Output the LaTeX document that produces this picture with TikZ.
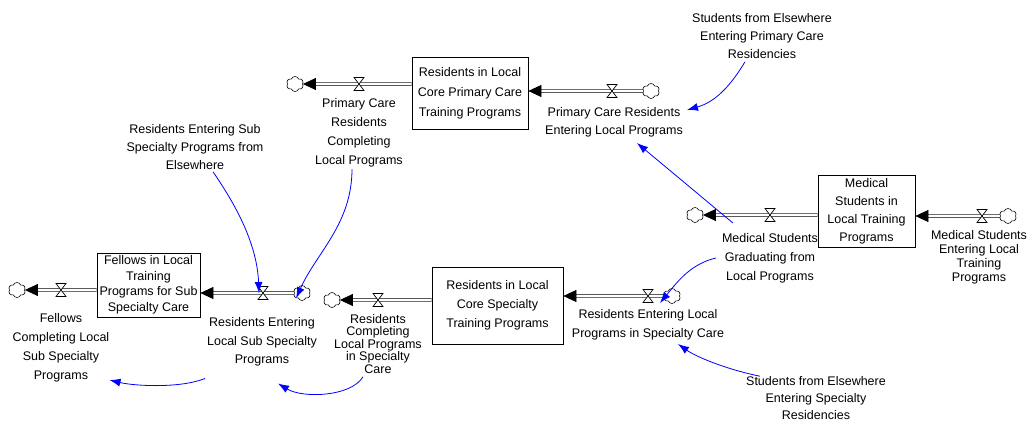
\documentclass[tikz,border=0pt]{standalone}
\usepackage{fontspec}
\setmainfont{Liberation Sans}
\usetikzlibrary{arrows.meta,shapes.symbols}

\begin{document}
\begin{tikzpicture}
[x=1pt,y=-1pt,
  stockdecorate/.style={shape=rectangle,draw,line width=0.7pt,align=center,inner sep=0pt},%
  sinkdecorate/.style={shape=cloud,cloud puffs=6,cloud puff arc=140,draw,line width=0.6pt,inner sep=0pt,minimum width=17pt,minimum height=15pt,aspect=1.2},%
  labeldecorate/.style={align=center,inner sep=0pt},%
  pipedecorate/.style={-{Triangle[length=13pt,width=12pt]},double,double distance=2pt,line width=0.7pt},%
  linkdecorate/.style={-{Latex[length=11pt,width=8pt]},draw=blue,line width=0.8pt},%
  valve/.pic={\draw[fill=white,line width=0.7pt] (-5,-6.5) -- (5,-6.5) -- (-5,6.5) -- (5,6.5) -- cycle;}]
\useasboundingbox (0,0) rectangle (1028,422);
\fontsize{12.5}{19}\selectfont
%% stocks
\node (rpc) at (470,93) [stockdecorate,minimum width=116,minimum height=72,font=\fontsize{12.5}{20}\selectfont] {Residents in Local\\Core Primary Care\\Training Programs};
\node (msl) at (866.5,211) [stockdecorate,minimum width=97,minimum height=72,font=\fontsize{12.5}{18}\selectfont] {Medical\\Students in\\Local Training\\Programs};
\node (rsp) at (497.5,305.5) [stockdecorate,minimum width=131,minimum height=77,font=\fontsize{12.5}{19}\selectfont] {Residents in Local\\Core Specialty\\Training Programs};
\node (fsub) at (148.5,285) [stockdecorate,minimum width=103,minimum height=64,font=\fontsize{12.5}{15.5}\selectfont] {Fellows in Local\\Training\\Programs for Sub\\Specialty Care};
%% valves
\coordinate (v1) at (359,84);
\coordinate (v2) at (612,91);
\coordinate (v3) at (770,215);
\coordinate (v4) at (982,216);
\coordinate (v5) at (378,300);
\coordinate (v6) at (648,296);
\coordinate (v7) at (61,290);
\coordinate (v8) at (263,293);
%% clouds
\node (c1) at (295,84) [sinkdecorate] {};
\node (c2) at (651,91) [sinkdecorate] {};
\node (c3) at (695,215) [sinkdecorate] {};
\node (c4) at (1008,216) [sinkdecorate] {};
\node (c5) at (332,300) [sinkdecorate] {};
\node (c6) at (672,296) [sinkdecorate] {};
\node (c7) at (17,290) [sinkdecorate] {};
\node (c8) at (302,293) [sinkdecorate] {};
%% pipes
\path
(rpc.west |- v1) edge[pipedecorate] (c1)
(c2) edge[pipedecorate] (rpc.east |- v2)
(msl.west |- v3) edge[pipedecorate] (c3)
(c4) edge[pipedecorate] (msl.east |- v4)
(rsp.west |- v5) edge[pipedecorate] (c5)
(c6) edge[pipedecorate] (rsp.east |- v6)
(fsub.west |- v7) edge[pipedecorate] (c7)
(c8) edge[pipedecorate] (fsub.east |- v8);
\foreach \v in {v1,v2,v3,v4,v5,v6,v7,v8}
  \pic at (\v) {valve};
%% flow and auxiliary labels
\node (l1) at (359,132.5) [labeldecorate] {Primary Care\\Residents\\Completing\\Local Programs};
\node (l2) at (614,122) [labeldecorate,font=\fontsize{12.5}{18}\selectfont] {Primary Care Residents\\Entering Local Programs};
\node (l3) at (770,258) [labeldecorate] {Medical Students\\Graduating from\\Local Programs};
\node (l4) at (979,257) [labeldecorate,font=\fontsize{12.5}{14}\selectfont] {Medical Students\\Entering Local\\Training\\Programs};
\node (l5) at (378,344) [labeldecorate,font=\fontsize{12.5}{12.5}\selectfont] {Residents\\Completing\\Local Programs\\in Specialty\\Care};
\node (l6) at (648,324.5) [labeldecorate] {Residents Entering Local\\Programs in Specialty Care};
\node (l7) at (61,347.5) [labeldecorate] {Fellows\\Completing Local\\Sub Specialty\\Programs};
\node (l8) at (262,342) [labeldecorate,font=\fontsize{12.5}{18.5}\selectfont] {Residents Entering\\Local Sub Specialty\\Programs};
\node (a1) at (762,36) [labeldecorate,font=\fontsize{12.5}{18}\selectfont] {Students from Elsewhere\\Entering Primary Care\\Residencies};
\node (a2) at (816,398) [labeldecorate,font=\fontsize{12.5}{17}\selectfont] {Students from Elsewhere\\Entering Specialty\\Residencies};
\node (a3) at (195,147) [labeldecorate,font=\fontsize{12.5}{18}\selectfont] {Residents Entering Sub\\Specialty Programs from\\Elsewhere};
%% connectors
\draw[linkdecorate] ([xshift=-17pt,yshift=-3pt]a1.south) .. controls +(-15,25) and +(28,-8) .. ([xshift=4pt,yshift=12pt]l2.east);
\draw[linkdecorate] ([xshift=11pt,yshift=10pt]l3.north west) -- ([xshift=23pt,yshift=-6pt]l2.south);
\draw[linkdecorate] ([xshift=-6pt]l3.west) .. controls +(-25,6) and +(18,-22) .. ([xshift=12pt,yshift=-7pt]v6);
\draw[linkdecorate] ([xshift=14pt]a2.north west) .. controls +(-30,-6) and +(20,14) .. ([xshift=30pt,yshift=-4pt]l6.south);
\draw[linkdecorate] ([xshift=18pt,yshift=-2pt]a3.south) .. controls +(22,32) and +(-2,-50) .. ([xshift=-4pt]v8);
\draw[linkdecorate] ([xshift=-7pt,yshift=-2pt]l1.south) .. controls +(0,55) and +(20,-45) .. (c8.south west);
\draw[linkdecorate] ([xshift=-2pt,yshift=-12pt]l8.south west) .. controls +(-25,10) and +(25,6) .. ([yshift=2pt]l7.south east);
\draw[linkdecorate] ([xshift=-15pt,yshift=-3pt]l5.south) .. controls +(-12,20) and +(25,15) .. ([xshift=16pt,yshift=-17pt]l8.south);
\end{tikzpicture}
\end{document}
